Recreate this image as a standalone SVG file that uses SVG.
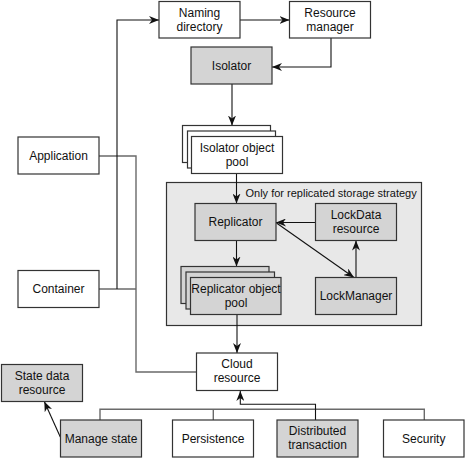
<svg xmlns="http://www.w3.org/2000/svg" width="465" height="458" viewBox="0 0 465 458">
<defs>
<marker id="ah" viewBox="0 0 10 8" refX="10" refY="4" markerWidth="10" markerHeight="8" markerUnits="userSpaceOnUse" orient="auto">
<path d="M0,0 L10,4 L0,8 L3,4 z" fill="#111"/>
</marker>
<style>
text{font-family:"Liberation Sans",Arial,sans-serif;font-size:12px;fill:#111;text-anchor:middle}
.w{fill:#fff;stroke:#333;stroke-width:1.2}
.g{fill:#d4d4d4;stroke:#333;stroke-width:1.2}
.ln{fill:none;stroke:#111;stroke-width:1.1}
.gl{fill:none;stroke:#6a6a6a;stroke-width:1.4}
.ar{marker-end:url(#ah)}
</style>
</defs>
<rect width="465" height="458" fill="#fff"/>
<g id="replication-area">
<rect x="166.5" y="182.5" width="255" height="143" fill="#e8e8e8" stroke="#333" stroke-width="1.2"/>
<text x="245.5" y="196.5" style="font-size:11px;text-anchor:start">Only for replicated storage strategy</text>
</g>
<g id="connectors">
<polyline class="gl" points="99,156 136,156 136,372 196.5,372"/>
<polyline class="gl" points="99,289 136,289"/>
<polyline class="ln ar" points="117,289 117,20 159,20"/>
<line class="ln ar" x1="240" y1="20" x2="289.5" y2="20"/>
<polyline class="ln ar" points="331,38 331,67 272,67"/>
<line class="ln ar" x1="232" y1="84" x2="232" y2="125.5"/>
<line class="ln ar" x1="236.5" y1="173.5" x2="236.5" y2="203.5"/>
<line class="ln ar" x1="315.5" y1="222.5" x2="276" y2="222.5"/>
<line class="ln ar" x1="276.5" y1="223" x2="354" y2="277.5"/>
<line class="ln ar" x1="356" y1="277.5" x2="356" y2="240.5"/>
<line class="ln ar" x1="236.5" y1="240.5" x2="236.5" y2="266.5"/>
<line class="ln ar" x1="237" y1="314" x2="237" y2="353"/>
<polyline class="gl" points="100,420 100,409.3 424.3,409.3 424.3,420"/>
<line class="gl" x1="213.3" y1="409.3" x2="213.3" y2="420"/>
<polyline class="ln ar" points="315.5,420 315.5,404.3 240.3,404.3 240.3,391"/>
<line class="ln ar" x1="60.3" y1="437" x2="44.3" y2="401.5"/>
</g>
<g id="naming-directory">
<rect class="w" x="159" y="1.5" width="81" height="36.5"/>
<text x="199.5" y="16.5">Naming</text><text x="199.5" y="30.5">directory</text>
</g>
<g id="resource-manager">
<rect class="w" x="289.5" y="1.5" width="81" height="36.5"/>
<text x="330" y="16.5">Resource</text><text x="330" y="30.5">manager</text>
</g>
<g id="isolator">
<rect class="g" x="191" y="47" width="81" height="37"/>
<text x="231.5" y="69.5">Isolator</text>
</g>
<g id="isolator-object-pool">
<rect class="w" x="182.5" y="125.5" width="88" height="37"/>
<rect class="w" x="187.5" y="131" width="88" height="37"/>
<rect class="w" x="191.5" y="136.5" width="91" height="37"/>
<text x="237" y="151.5">Isolator object</text><text x="237" y="165.5">pool</text>
</g>
<g id="application">
<rect class="w" x="18" y="137" width="81" height="37"/>
<text x="58.5" y="159.5">Application</text>
</g>
<g id="container">
<rect class="w" x="18" y="270.5" width="81" height="37"/>
<text x="58.5" y="293">Container</text>
</g>
<g id="replicator">
<rect class="g" x="195" y="203.5" width="81" height="37"/>
<text x="235.5" y="226">Replicator</text>
</g>
<g id="lockdata-resource">
<rect class="g" x="315.5" y="203.5" width="81" height="37"/>
<text x="356" y="218.5">LockData</text><text x="356" y="232.5">resource</text>
</g>
<g id="lockmanager">
<rect class="g" x="315.5" y="277.5" width="81" height="37"/>
<text x="356" y="300">LockManager</text>
</g>
<g id="replicator-object-pool">
<rect class="g" x="181" y="266.5" width="88" height="37"/>
<rect class="g" x="186" y="272" width="88.5" height="37"/>
<rect class="g" x="190.5" y="277.5" width="90.5" height="37"/>
<text x="236" y="292.5">Replicator object</text><text x="236" y="306.5">pool</text>
</g>
<g id="cloud-resource">
<rect class="w" x="196.5" y="353" width="81" height="37.5"/>
<text x="237" y="368">Cloud</text><text x="237" y="382">resource</text>
</g>
<g id="state-data-resource">
<rect class="g" x="1.5" y="364.5" width="81" height="37"/>
<text x="42" y="379.5">State data</text><text x="42" y="393.5">resource</text>
</g>
<g id="manage-state">
<rect class="g" x="60.5" y="420" width="81" height="37"/>
<text x="101" y="442.5">Manage state</text>
</g>
<g id="persistence">
<rect class="w" x="172.5" y="420" width="81" height="37"/>
<text x="213" y="442.5">Persistence</text>
</g>
<g id="distributed-transaction">
<rect class="g" x="277" y="420" width="81" height="37"/>
<text x="317.5" y="435">Distributed</text><text x="317.5" y="449">transaction</text>
</g>
<g id="security">
<rect class="w" x="383.5" y="420" width="80.5" height="37"/>
<text x="423.8" y="442.5">Security</text>
</g>
</svg>
